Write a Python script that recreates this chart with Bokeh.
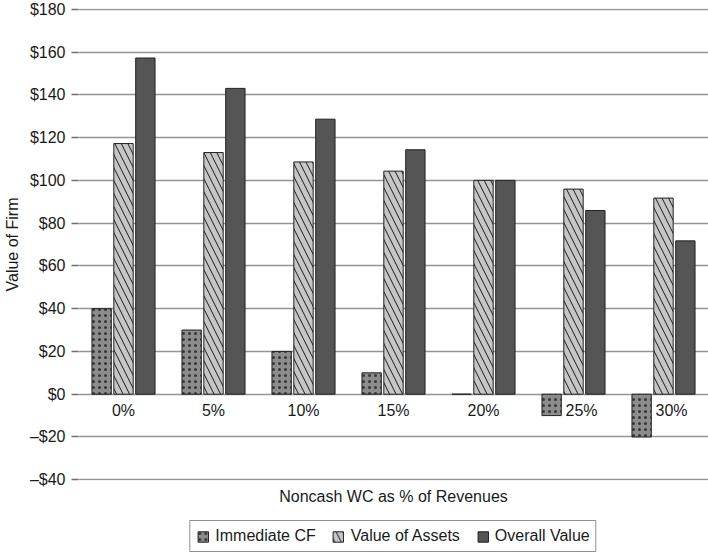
from bokeh.plotting import figure
from bokeh.layouts import column
from bokeh.models import (ColumnDataSource, FactorRange, Legend, LegendItem,
                          FixedTicker, Range1d, Title)
from bokeh.transform import dodge
from bokeh.core.properties import value
from bokeh.embed import file_html
from bokeh.resources import INLINE

# ---- data ----
categories = ["0%", "5%", "10%", "15%", "20%", "25%", "30%"]
immediate_cf = [40, 30, 20, 10, 0, -10, -20]
value_of_assets = [117.2, 113.0, 108.6, 104.3, 100.0, 95.9, 91.7]
overall_value = [157.2, 143.0, 128.6, 114.3, 100.0, 85.9, 71.7]
series_names = ["Immediate CF", "Value of Assets", "Overall Value"]
y_ticks = [-40, -20, 0, 20, 40, 60, 80, 100, 120, 140, 160, 180]
y_tick_labels = ["\u2013$40", "\u2013$20", "$0", "$20", "$40", "$60", "$80",
                 "$100", "$120", "$140", "$160", "$180"]
x_title = "Noncash WC as % of Revenues"
y_title = "Value of Firm"

FONT = "Liberation Sans"
TXT = "#1a1a1a"

# category labels sit beside a negative bar rather than over it
label_shift = [8 if v < 0 else 0 for v in immediate_cf]

src = ColumnDataSource(dict(cat=categories, imm=immediate_cf,
                            assets=value_of_assets, overall=overall_value,
                            shift=label_shift))

p = figure(width=708, height=520, x_range=FactorRange(*categories),
           y_range=Range1d(-40.35, 180.35), output_backend="svg",
           toolbar_location=None, min_border_left=0, min_border_right=0,
           min_border_top=8, min_border_bottom=40, outline_line_color=None)
p.background_fill_color = "white"
p.border_fill_color = "white"

# grid
p.xgrid.visible = False
p.ygrid.ticker = FixedTicker(ticks=y_ticks)
p.ygrid.grid_line_color = "#959595"
p.ygrid.grid_line_width = 1.4

# y axis
p.yaxis.ticker = FixedTicker(ticks=y_ticks)
p.yaxis.major_label_overrides = {t: l for t, l in zip(y_ticks, y_tick_labels)}
p.yaxis.axis_line_color = None
p.yaxis.major_tick_out = 7
p.yaxis.major_tick_in = 0
p.yaxis.major_tick_line_color = "#707070"
p.yaxis.major_tick_line_width = 1.3
p.yaxis.minor_tick_line_color = None
p.yaxis.major_label_standoff = 6
p.yaxis.major_label_text_font = FONT
p.yaxis.major_label_text_font_size = "16px"
p.yaxis.major_label_text_color = TXT
p.yaxis.axis_label = y_title
p.yaxis.axis_label_text_font = FONT
p.yaxis.axis_label_text_font_size = "16px"
p.yaxis.axis_label_text_font_style = "normal"
p.yaxis.axis_label_text_color = TXT
p.yaxis.axis_label_standoff = 6

# x axis hidden; category labels drawn at the zero line
p.xaxis.visible = False

W = 0.215
OFF = 0.243
STYLES = [
    dict(fill_color="#8c8c8c", line_color="#222222", line_width=1,
         hatch_pattern="dot", hatch_color="#1a1a1a", hatch_scale=6,
         hatch_weight=1, hatch_alpha=0.75),
    dict(fill_color="#c6c6c6", line_color="#222222", line_width=1,
         hatch_pattern="left_diagonal_line", hatch_color="#1a1a1a",
         hatch_scale=13, hatch_weight=1),
    dict(fill_color="#555555", line_color="#222222", line_width=1),
]
COLS = ["imm", "assets", "overall"]
OFFS = [-OFF, 0, OFF]

for col, off, st in zip(COLS, OFFS, STYLES):
    p.vbar(x=dodge("cat", off, range=p.x_range), top=col, bottom=0, width=W,
           source=src, **st)

p.text(x="cat", y=0, text="cat", source=src, text_align="center",
       text_baseline="top", y_offset=8, x_offset="shift",
       text_font_size="16px", text_color=TXT, text_font=value(FONT))

xt = Title(text=x_title, align="center", text_font=FONT, text_font_size="16px",
           text_font_style="normal", text_color=TXT, standoff=10, offset=0)
p.add_layout(xt, "below")

# legend strip below the chart: same series, but its value range lies far
# above the data so the bars fall below the strip and only the legend shows
pl = figure(width=708, height=32, x_range=p.x_range,
            y_range=Range1d(1000, 2000),
            output_backend="svg", toolbar_location=None, min_border_left=75,
            min_border_right=0, min_border_top=0, min_border_bottom=0,
            outline_line_color=None)
pl.xaxis.visible = False
pl.yaxis.visible = False
pl.grid.visible = False
pl.background_fill_color = "white"
pl.border_fill_color = "white"
items = []
for name, col, off, st in zip(series_names, COLS, OFFS, STYLES):
    r = pl.vbar(x=dodge("cat", off, range=p.x_range), top=col, bottom=0,
                width=W, source=src, **st)
    items.append(LegendItem(label=name, renderers=[r]))

legend = Legend(items=items, orientation="horizontal", location="center",
                border_line_color="#222222", border_line_width=1,
                background_fill_color="white", background_fill_alpha=1,
                label_text_font=FONT, label_text_font_size="16px",
                label_text_color=TXT, glyph_width=13, glyph_height=13,
                label_standoff=6, spacing=16, padding=6, margin=0)
pl.add_layout(legend, "center")

layout = column(p, pl, spacing=0)
open("out.html", "w").write(file_html(layout, INLINE))
